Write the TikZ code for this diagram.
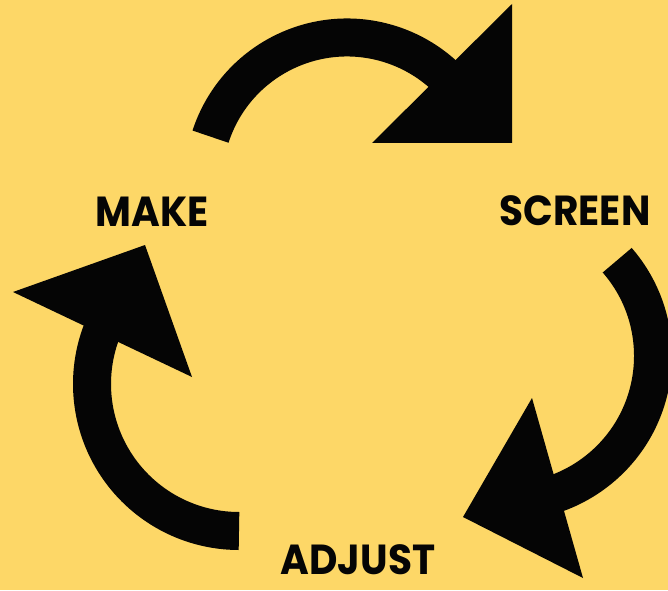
\documentclass[tikz,border=0pt]{standalone}
\usepackage{fontspec}
\setmainfont{Poppins}
\usepackage{tikz}
\usepackage{xcolor}
\definecolor{bgyellow}{HTML}{FDD767}
\definecolor{ink}{HTML}{050505}

\begin{document}
\begin{tikzpicture}[x=1pt, y=1pt,
      band/.style={draw=ink, line width=38pt},
      head/.style={fill=ink},
      steplabel/.style={font=\fontsize{42}{44}\selectfont\bfseries, text=ink, inner sep=0pt, xscale=0.93}]

      % Background
      \clip (0,0) rectangle (668,590);
      \fill[bgyellow] (0,0) rectangle (668,590);

      % Arc centres
      \coordinate (topc) at (347,409);
      \coordinate (leftc) at (239,206);
      \coordinate (rightc) at (507,234);

      % --- Make -> Screen ---
      \draw[band] (topc) ++(162:143.5) arc[start angle=162, end angle=45, radius=143.5];
      \fill[head] (372,447) -- (512,586) -- (512,447) -- cycle;

      % --- Screen -> Adjust ---
      \draw[band] (rightc) ++(41:146) arc[start angle=41, end angle=-75, radius=146];
      \fill[head] (532,192) -- (583,12) -- (463,73) -- cycle;

      % --- Adjust -> Make ---
      \draw[band] (leftc) ++(270:147) arc[start angle=270, end angle=155, radius=147];
      \fill[head] (13,298) -- (192,213) -- (145,345) -- cycle;

      % Labels
      \node[steplabel] (make) at (152,378.5) {MAKE};
      \node[steplabel] (screen) at (575,379) {SCREEN};
      \node[steplabel] (adjust) at (358,30) {ADJUST};

    \end{tikzpicture}
\end{document}
